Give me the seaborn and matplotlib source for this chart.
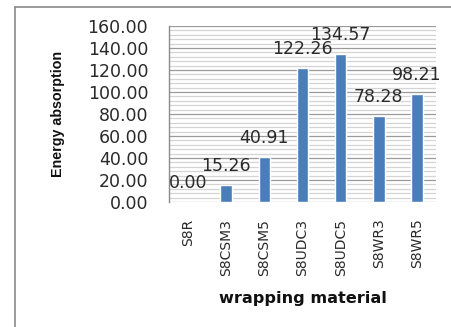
import matplotlib
matplotlib.use("Agg")
import matplotlib.pyplot as plt
from matplotlib.lines import Line2D
from matplotlib.ticker import MultipleLocator, FormatStrFormatter
import seaborn as sns
import pandas as pd

categories = ["S8R", "S8CSM3", "S8CSM5", "S8UDC3", "S8UDC5", "S8WR3", "S8WR5"]
energy = [0.00, 15.26, 40.91, 122.26, 134.57, 78.28, 98.21]

sns.set_style("white")
plt.rcParams["font.family"] = ["DejaVu Sans"]

df = pd.DataFrame({"material": categories, "energy": energy})

fig = plt.figure(figsize=(4.52, 3.27), dpi=100)
ax = fig.add_axes([169 / 452, 125 / 327, 267 / 452, 176 / 327])

sns.barplot(data=df, x="material", y="energy", color="#4A7EBB",
            width=0.3, saturation=1, ax=ax, zorder=3)

ax.set_ylim(0, 160)
ax.yaxis.set_major_locator(MultipleLocator(20))
ax.yaxis.set_minor_locator(MultipleLocator(4))
ax.yaxis.set_major_formatter(FormatStrFormatter("%.2f"))
ax.grid(which="major", axis="y", color="#9a9a9a", linewidth=0.9, zorder=0)
ax.grid(which="minor", axis="y", color="#d4d4d4", linewidth=0.9, zorder=0)
ax.set_axisbelow(True)

for side in ["top", "right", "bottom"]:
    ax.spines[side].set_visible(False)
ax.spines["left"].set_color("#8c8c8c")
ax.spines["left"].set_linewidth(1.0)

ax.tick_params(axis="y", which="major", length=6, width=0.9, color="#8c8c8c",
               labelsize=12.5, labelcolor="#2a2a2a", pad=9)
ax.tick_params(axis="y", which="minor", length=0)
ax.tick_params(axis="x", length=0, labelsize=10, labelcolor="#2a2a2a",
               labelrotation=90, pad=12)

for i, v in enumerate(energy):
    ax.annotate(f"{v:.2f}", xy=(i, v), xytext=(0, 13.5), textcoords="offset points",
                ha="center", va="center", fontsize=12.5, color="#2a2a2a",
                annotation_clip=False, zorder=4)

ax.set_xlabel("wrapping material", fontsize=11.6, fontweight="bold",
              color="#111111")
ax.set_ylabel("Energy absorption", fontsize=10.3, fontweight="bold",
              color="#111111", family=["Liberation Sans", "DejaVu Sans"])
ax.xaxis.set_label_coords(0.5, -(299 - 202) / 176)
ax.yaxis.set_label_coords(-(169 - 58) / 267, 0.5)
ax.xaxis.label.set_va("center")
ax.yaxis.label.set_va("center")

# outer frame lines along the top and left edges
fig.add_artist(Line2D([15 / 452, 1.01], [1 - 7 / 327, 1 - 7 / 327],
                      transform=fig.transFigure, color="#8a8a8a", linewidth=1.2))
fig.add_artist(Line2D([15 / 452, 15 / 452], [-0.01, 1 - 7 / 327],
                      transform=fig.transFigure, color="#8a8a8a", linewidth=1.2))

fig.savefig("out.png", dpi=100)
